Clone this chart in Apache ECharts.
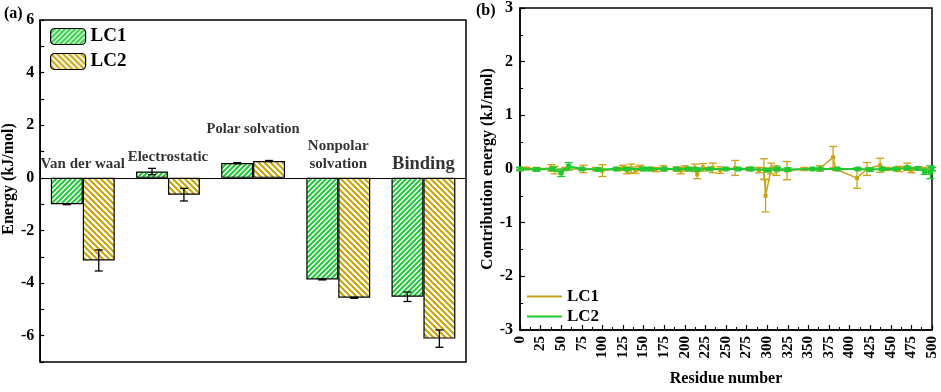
<!DOCTYPE html>
<html><head><meta charset="utf-8">
<script src="https://cdn.jsdelivr.net/npm/echarts@6/dist/echarts.min.js"></script>
<style>html,body{margin:0;padding:0;background:#fff}#c{width:941px;height:392px}</style>
</head><body><div id="c"></div>
<script>
// ---- Panel (a) data ----
const categories = ['Van der waal', 'Electrostatic', 'Polar solvation', 'Nonpolar solvation', 'Binding'];
const lc1Energy = [-1.00, 0.24, 0.56, -3.86, -4.52];
const lc1EnergyErr = [0.02, 0.12, 0.02, 0.02, 0.18];
const lc2Energy = [-3.14, -0.64, 0.64, -4.56, -6.11];
const lc2EnergyErr = [0.40, 0.24, 0.02, 0.02, 0.33];
const yTicksA = [-6, -4, -2, 0, 2, 4, 6];

// ---- Panel (b) data ----
const lc1Res = [0, 8, 20, 38, 42, 55, 77, 92, 100, 118, 125, 130, 135, 140, 146, 158, 165, 174, 190, 195, 200, 212, 215, 222, 234, 243, 261, 278, 290, 296, 298, 305, 311, 324, 345, 364, 380, 383, 409, 421, 437, 445, 460, 470, 475, 490, 500];
const lc1Contrib = [0, 0.01, 0, 0.02, -0.02, 0, 0, 0, -0.03, 0, 0.02, -0.03, 0.01, -0.02, 0.02, 0, -0.01, 0.01, 0, -0.03, 0.01, 0.02, -0.1, 0.03, 0.02, -0.02, 0.02, 0, -0.02, 0, -0.5, 0.01, -0.03, -0.03, 0, 0.01, 0.22, 0, -0.17, 0, 0.07, 0, 0, 0.04, -0.02, 0, 0];
const lc1ContribErr = [0.02, 0.02, 0.03, 0.06, 0.07, 0.03, 0.07, 0.03, 0.11, 0.03, 0.05, 0.06, 0.08, 0.06, 0.05, 0.03, 0.04, 0.05, 0.04, 0.06, 0.05, 0.07, 0.08, 0.07, 0.09, 0.06, 0.14, 0.03, 0.05, 0.19, 0.30, 0.10, 0.09, 0.17, 0.03, 0.05, 0.20, 0.03, 0.19, 0.12, 0.13, 0.03, 0.05, 0.07, 0.05, 0.03, 0.03];
const lc2Res = [0, 20, 40, 50, 59, 75, 95, 117, 130, 150, 158, 175, 190, 205, 215, 230, 250, 265, 280, 300, 312, 325, 355, 364, 385, 410, 425, 440, 455, 470, 483, 491, 498, 500];
const lc2Contrib = [0, -0.01, 0, -0.07, 0.05, 0, -0.01, 0, 0, 0, 0, 0, 0, 0, -0.01, 0, 0, 0, 0, -0.02, 0, -0.01, 0, 0, 0, 0, -0.01, 0, 0, 0.02, 0.01, -0.05, -0.06, 0];
const lc2ContribErr = [0.03, 0.03, 0.03, 0.07, 0.07, 0.02, 0.03, 0.02, 0.02, 0.03, 0.02, 0.02, 0.02, 0.03, 0.03, 0.02, 0.02, 0.02, 0.03, 0.03, 0.03, 0.03, 0.02, 0.02, 0.02, 0.02, 0.03, 0.02, 0.02, 0.03, 0.03, 0.05, 0.12, 0.03];

const GREEN = '#1fca36', GOLD = '#c9a100';
const LGREEN = '#22c832', LGOLD = '#c8a414';
const FONT = 'Liberation Serif';

function hatch(color, size, lw, dir) {
  const c = document.createElement('canvas');
  c.width = c.height = size;
  const ctx = c.getContext('2d');
  ctx.fillStyle = '#fff'; ctx.fillRect(0, 0, size, size);
  ctx.strokeStyle = color; ctx.lineWidth = lw; ctx.lineCap = 'square';
  ctx.beginPath();
  for (let k = -1; k <= 1; k++) {
    if (dir > 0) { ctx.moveTo(k * size, size); ctx.lineTo(k * size + size, 0); }
    else { ctx.moveTo(k * size, 0); ctx.lineTo(k * size + size, size); }
  }
  ctx.stroke();
  return c;
}
const greenPat = { image: hatch(GREEN, 5, 2.0, 1), repeat: 'repeat' };
const goldPat = { image: hatch(GOLD, 6, 2.0, -1), repeat: 'repeat' };

function barErr(sign) {
  return function (params, api) {
    const ci = api.value(0), v = api.value(1), e = api.value(2);
    const w = api.size([1, 0])[0];
    const x = api.coord([ci, v])[0] + sign * 0.1875 * w;
    const yt = api.coord([ci, v + e])[1], yb = api.coord([ci, v - e])[1];
    const cap = 4;
    const st = { stroke: '#000', lineWidth: 1.3 };
    return { type: 'group', children: [
      { type: 'line', shape: { x1: x, y1: yt, x2: x, y2: yb }, style: st },
      { type: 'line', shape: { x1: x - cap, y1: yt, x2: x + cap, y2: yt }, style: st },
      { type: 'line', shape: { x1: x - cap, y1: yb, x2: x + cap, y2: yb }, style: st }
    ]};
  };
}
function lineErr(color) {
  return function (params, api) {
    const r = api.value(0), v = api.value(1), e = api.value(2);
    const t = api.coord([r, v + e]), b = api.coord([r, v - e]);
    const cap = 4;
    const st = { stroke: color, lineWidth: 1.3 };
    return { type: 'group', children: [
      { type: 'line', shape: { x1: t[0], y1: t[1], x2: b[0], y2: b[1] }, style: st },
      { type: 'line', shape: { x1: t[0] - cap, y1: t[1], x2: t[0] + cap, y2: t[1] }, style: st },
      { type: 'line', shape: { x1: b[0] - cap, y1: b[1], x2: b[0] + cap, y2: b[1] }, style: st }
    ]};
  };
}

const annotations = [
  { cat: 0, y: 0.53, text: 'Van der waal', size: 15 },
  { cat: 1, y: 0.80, text: 'Electrostatic', size: 15 },
  { cat: 2, y: 1.86, text: 'Polar solvation', size: 14.5 },
  { cat: 3, y: 0.87, text: 'Nonpolar\nsolvation', size: 15 },
  { cat: 4, y: 0.53, text: 'Binding', size: 18.5 }
];

const axisLbl = { color: '#000', fontFamily: FONT, fontWeight: 'bold', fontSize: 16 };
const nameStyle = { color: '#000', fontFamily: FONT, fontWeight: 'bold', fontSize: 16 };

const chart = echarts.init(document.getElementById('c'), null, { renderer: 'canvas' });
chart.setOption({
  animation: false,
  backgroundColor: '#fff',
  textStyle: { fontFamily: FONT },
  grid: [
    { left: 40, top: 20, width: 426, height: 342, show: true, borderColor: '#000', borderWidth: 1.5, backgroundColor: 'transparent' },
    { left: 520, top: 8, width: 412, height: 333, show: true, borderColor: '#000', borderWidth: 1.5, backgroundColor: 'transparent' }
  ],
  legend: [
    { data: ['a:LC1', 'a:LC2'], left: 50, top: 27, padding: 0, orient: 'vertical', itemWidth: 35, itemHeight: 16, itemGap: 6,
      itemStyle: { borderColor: '#000', borderWidth: 1.2 },
      formatter: n => n.split(':')[1],
      textStyle: { color: '#000', fontFamily: FONT, fontWeight: 'bold', fontSize: 19 } },
    { data: ['b:LC1', 'b:LC2'], left: 527, top: 288, padding: 0, orient: 'vertical', icon: 'rect', itemWidth: 35, itemHeight: 2, itemGap: 3,
      formatter: n => n.split(':')[1],
      textStyle: { color: '#000', fontFamily: FONT, fontWeight: 'bold', fontSize: 17 } }
  ],
  xAxis: [
    { type: 'category', gridIndex: 0, data: categories, axisLine: { onZero: true, lineStyle: { color: '#000', width: 1.2 } },
      axisTick: { show: false }, axisLabel: { show: false } },
    { type: 'value', gridIndex: 1, min: 0, max: 500, interval: 25,
      name: 'Residue number', nameLocation: 'middle', nameGap: 41, nameTextStyle: nameStyle,
      axisLine: { onZero: false, lineStyle: { color: '#000', width: 1.5 } },
      axisTick: { inside: true, length: 5, lineStyle: { color: '#000', width: 1.2 } },
      minorTick: { show: true, splitNumber: 2, length: 3, lineStyle: { color: '#000', width: 1 } },
      axisLabel: Object.assign({}, axisLbl, { rotate: 90, margin: 6, fontSize: 15 }),
      splitLine: { show: false } }
  ],
  yAxis: [
    { type: 'value', gridIndex: 0, min: -7, max: 6, interval: 1,
      name: 'Energy (kJ/mol)', nameLocation: 'middle', nameGap: 17, nameTextStyle: Object.assign({}, nameStyle, { padding: [0, 0, 0, 24] }),
      axisLine: { show: true, lineStyle: { color: '#000', width: 1.5 } },
      axisTick: { show: true, inside: true, length: 4, lineStyle: { color: '#000', width: 1.2 } },
      axisLabel: Object.assign({}, axisLbl, { margin: 6, formatter: v => (yTicksA.indexOf(v) >= 0 ? String(v) : '') }),
      splitLine: { show: false } },
    { type: 'value', gridIndex: 1, min: -3, max: 3, interval: 1,
      name: 'Contribution energy (kJ/mol)', nameLocation: 'middle', nameGap: 24, nameTextStyle: nameStyle,
      axisLine: { show: true, onZero: false, lineStyle: { color: '#000', width: 1.5 } },
      axisTick: { show: true, inside: true, length: 5, lineStyle: { color: '#000', width: 1.2 } },
      minorTick: { show: true, splitNumber: 2, length: 3, lineStyle: { color: '#000', width: 1 } },
      axisLabel: Object.assign({}, axisLbl, { margin: 7 }),
      splitLine: { show: false } }
  ],
  series: [
    { name: 'a:LC1', type: 'bar', xAxisIndex: 0, yAxisIndex: 0, data: lc1Energy, barGap: '0%', barCategoryGap: '25%',
      itemStyle: { color: greenPat, borderColor: '#000', borderWidth: 1.2 } },
    { name: 'a:LC2', type: 'bar', xAxisIndex: 0, yAxisIndex: 0, data: lc2Energy, barGap: '0%', barCategoryGap: '25%',
      itemStyle: { color: goldPat, borderColor: '#000', borderWidth: 1.2 } },
    { type: 'custom', xAxisIndex: 0, yAxisIndex: 0, renderItem: barErr(-1), z: 5,
      data: lc1Energy.map((v, i) => [i, v, lc1EnergyErr[i]]) },
    { type: 'custom', xAxisIndex: 0, yAxisIndex: 0, renderItem: barErr(1), z: 5,
      data: lc2Energy.map((v, i) => [i, v, lc2EnergyErr[i]]) },
    { type: 'scatter', xAxisIndex: 0, yAxisIndex: 0, symbolSize: 0, silent: true, z: 6,
      data: annotations.map(a => ({ value: [a.cat, a.y],
        label: { show: true, position: 'inside', formatter: a.text, fontSize: a.size, fontFamily: FONT, fontWeight: 'bold', color: '#000', lineHeight: 18 } })) },
    // panel b
    { type: 'custom', xAxisIndex: 1, yAxisIndex: 1, renderItem: lineErr(LGOLD), z: 2,
      data: lc1Res.map((r, i) => [r, lc1Contrib[i], lc1ContribErr[i]]) },
    { name: 'b:LC1', type: 'line', xAxisIndex: 1, yAxisIndex: 1, z: 3,
      data: lc1Res.map((r, i) => [r, lc1Contrib[i]]), symbol: 'rect', symbolSize: 4, showSymbol: true,
      lineStyle: { color: LGOLD, width: 1.5 }, itemStyle: { color: LGOLD } },
    { type: 'custom', xAxisIndex: 1, yAxisIndex: 1, renderItem: lineErr(LGREEN), z: 4,
      data: lc2Res.map((r, i) => [r, lc2Contrib[i], lc2ContribErr[i]]) },
    { name: 'b:LC2', type: 'line', xAxisIndex: 1, yAxisIndex: 1, z: 5,
      data: lc2Res.map((r, i) => [r, lc2Contrib[i]]), symbol: 'rect', symbolSize: 5, showSymbol: true,
      lineStyle: { color: LGREEN, width: 2 }, itemStyle: { color: LGREEN } }
  ],
  graphic: [
    { type: 'text', left: 4, top: 6, style: { text: '(a)', font: 'bold 16px "Liberation Serif"', fill: '#000' } },
    { type: 'text', left: 476, top: 3, style: { text: '(b)', font: 'bold 16px "Liberation Serif"', fill: '#000' } }
  ]
});
</script>
</body></html>
